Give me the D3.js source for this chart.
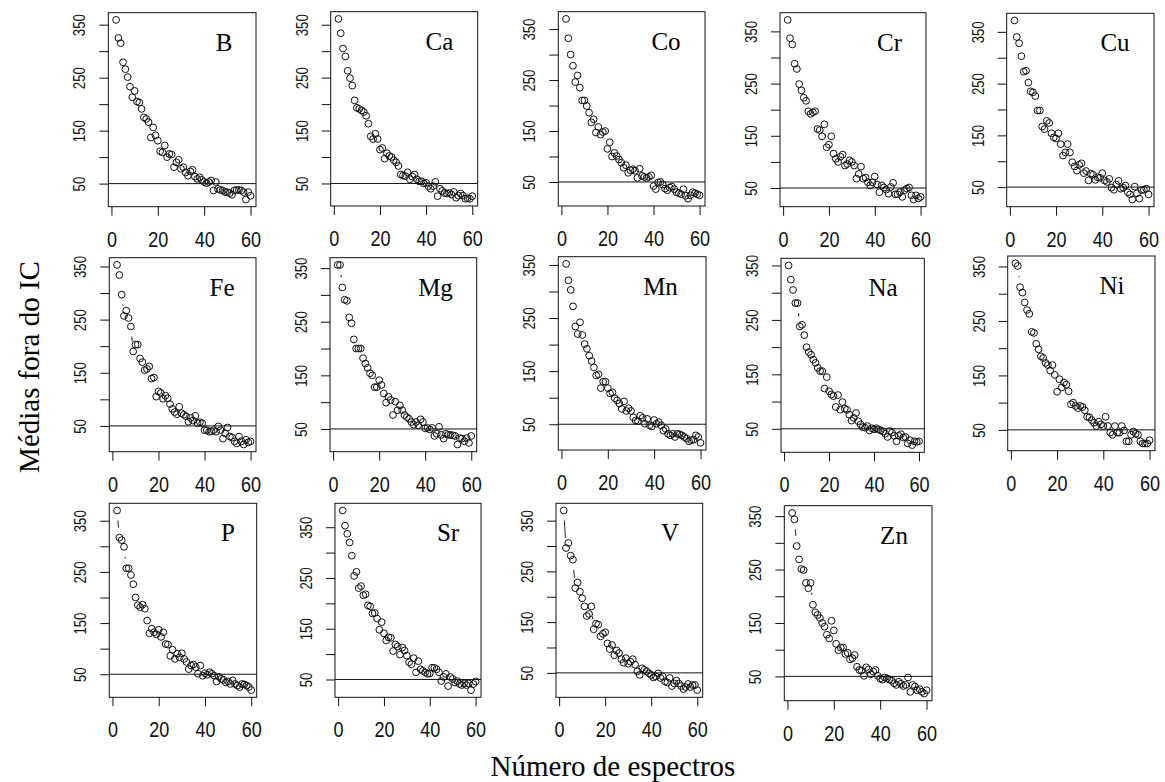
<!DOCTYPE html>
<html><head><meta charset="utf-8">
<script src="https://cdn.jsdelivr.net/npm/d3@7/dist/d3.min.js"></script>
<style>body{margin:0;background:#fff}</style>
</head><body><svg id="c" width="1165" height="782"></svg>
<script>
// ---------------- data ----------------
const elements = ["B","Ca","Co","Cr","Cu","Fe","Mg","Mn","Na","Ni","P","Sr","V","Zn"];
const spectra = d3.range(1, 61); // number of spectra (x); first value has no mean (NA)
const B  = [null,359,325,315,279,266,251,233,213,225,205,203,191,175,172,166,137,156,141,131,111,109,122,100,106,105,81,90,95,78,81,71,65,73,76,63,59,62,57,53,51,53,56,37,53,40,38,37,34,34,32,29,37,38,38,37,34,20,34,27];
const Ca = [null,361,334,305,290,263,249,235,207,193,191,188,185,178,163,139,134,144,134,114,117,97,107,102,100,94,90,83,67,65,64,71,58,63,67,58,54,54,50,51,45,40,45,53,26,40,36,32,31,32,29,34,23,27,31,27,21,22,21,26];
const Co = [null,370,332,300,278,246,259,235,210,210,199,186,167,173,147,158,143,148,150,115,128,100,107,101,94,88,78,83,68,73,75,72,58,76,62,60,58,60,63,42,36,49,50,45,37,34,39,41,36,30,28,26,36,23,17,24,30,28,26,24];
const Cr = [null,372,337,325,288,278,249,237,223,217,197,192,195,197,163,161,149,172,128,133,149,116,106,100,110,114,93,96,103,100,93,68,77,91,68,70,61,55,61,72,57,42,55,51,47,39,52,60,38,38,42,33,46,49,51,36,28,36,30,33];
const Cu = [null,372,340,328,303,273,275,252,235,233,226,198,198,167,162,178,174,154,146,144,154,133,111,117,133,117,98,90,82,93,96,77,81,63,76,74,64,69,68,77,63,60,66,49,45,55,62,47,49,53,40,36,26,51,38,28,44,45,47,36];
const Fe = [null,353,334,297,257,267,253,237,190,203,203,177,170,155,157,162,139,141,105,115,112,101,107,102,91,82,76,72,86,74,71,68,58,65,60,69,55,57,55,42,42,39,40,42,39,49,42,26,36,47,30,28,21,17,30,21,15,24,19,21];
const Mg = [null,356,356,314,291,289,258,247,217,200,200,200,182,172,164,154,150,128,128,141,132,116,99,110,104,76,101,85,94,85,76,72,69,63,58,63,57,68,63,51,52,49,52,37,41,54,39,32,41,39,39,38,37,21,33,32,27,33,24,37];
const Mn = [null,352,321,303,272,234,220,242,218,201,192,179,169,157,142,144,118,130,130,118,108,110,99,95,89,79,93,75,80,75,63,57,56,66,62,51,60,48,46,58,51,54,48,38,41,32,29,32,26,32,31,29,26,23,18,20,21,29,26,15];
const Na = [null,350,324,305,281,281,238,241,222,200,191,186,177,171,162,156,156,124,145,119,113,110,90,112,85,99,87,85,76,65,70,79,64,58,53,52,55,47,51,49,51,49,47,45,41,35,46,43,37,27,37,40,34,35,23,29,20,27,26,27];
const Ni = [null,356,351,312,302,284,270,263,230,228,208,198,185,182,173,169,159,169,151,120,143,128,137,133,121,97,100,94,90,94,92,86,74,73,68,63,57,65,60,57,74,57,45,41,57,45,45,57,49,29,29,41,47,43,41,29,25,25,25,31];
const P  = [null,370,317,312,299,257,257,244,226,200,185,181,186,178,155,130,139,132,128,137,123,132,109,108,86,98,80,90,83,91,80,74,60,67,69,64,51,67,47,52,49,54,51,47,36,45,41,39,34,36,31,38,31,28,25,31,30,28,25,19];
const Sr = [null,383,353,337,320,294,254,262,230,234,216,218,196,194,180,181,170,148,163,141,127,133,132,106,119,115,99,113,107,97,84,80,92,64,86,70,67,64,61,62,73,73,70,64,47,55,61,37,55,51,44,47,41,39,42,39,42,29,41,46];
const V  = [null,370,296,306,281,273,217,228,210,197,181,162,166,181,136,147,145,122,127,130,108,97,105,85,94,89,77,70,79,68,72,77,66,53,46,59,56,53,49,46,41,43,49,40,43,33,31,40,24,29,35,29,24,18,22,28,22,26,26,16];
const Zn = [null,356,344,294,269,251,249,225,215,225,184,170,165,159,150,143,128,121,154,136,111,99,104,104,92,94,82,84,90,68,62,61,51,67,63,54,59,62,51,46,44,48,46,44,42,37,34,40,36,32,34,48,21,34,31,24,26,21,18,24];
const seriesByElement = {B, Ca, Co, Cr, Cu, Fe, Mg, Mn, Na, Ni, P, Sr, V, Zn};
const xTickValues = [0, 20, 40, 60];
const yTickValues = [50, 100, 150, 200, 250, 300, 350];
const yTickLabels = [50, 150, 250, 350];
const referenceLevel = 50;
const xTitle = "Número de espectros";
const yTitle = "Médias fora do IC";

// ---------------- layout (pixel boxes of each panel) ----------------
const layout = [
  {l:108.3, r:256,   t:12.7,  b:206.7, lx:224},
  {l:330.7, r:477.7, t:11.7,  b:206,   lx:439.5},
  {l:558.3, r:705,   t:11.7,  b:206,   lx:666},
  {l:780,   r:926,   t:12.7,  b:206.7, lx:889.5},
  {l:1006.7,r:1154,  t:13.3,  b:206.7, lx:1115},
  {l:109.3, r:256,   t:257.7, b:451.7, lx:222},
  {l:330,   r:476.7, t:257.7, b:451.7, lx:435.5},
  {l:558.3, r:706,   t:256.7, b:450,   lx:660.5},
  {l:781,   r:924.3, t:258.3, b:452.3, lx:883},
  {l:1007.7,r:1155,  t:256,   b:450.7, lx:1112},
  {l:109.3, r:256.7, t:503.3, b:697.3, lx:228},
  {l:335,   r:481,   t:503.3, b:697.3, lx:448},
  {l:556,   r:702.7, t:503.3, b:697.3, lx:670},
  {l:784.3, r:932,   t:505.7, b:700.7, lx:894}
];

const svg = d3.select("#c");
svg.append("rect").attr("width",1165).attr("height",782).attr("fill","#fff");
const ink = "#111";
const sans = "'Liberation Sans', Arial, sans-serif";
const serif = "'Liberation Serif', 'Times New Roman', serif";

elements.forEach((name, i) => {
  const L = layout[i];
  const vals = seriesByElement[name];
  const pts = spectra.map((xv, j) => ({x: xv, y: vals[j]})).filter(d => d.y != null);
  const xe = d3.extent(spectra), ye = d3.extent(pts, d => d.y);
  const xpad = (xe[1]-xe[0])*0.04, ypad = (ye[1]-ye[0])*0.04;
  const x = d3.scaleLinear().domain([xe[0]-xpad, xe[1]+xpad]).range([L.l, L.r]);
  const y = d3.scaleLinear().domain([ye[0]-ypad, ye[1]+ypad]).range([L.b, L.t]);
  const g = svg.append("g");

  // reference line
  g.append("line").attr("x1", L.l).attr("x2", L.r)
    .attr("y1", y(referenceLevel)).attr("y2", y(referenceLevel))
    .attr("stroke", ink).attr("stroke-width", 1);

  // connecting segments with gaps around points (R type = "b")
  const gap = 10;
  const segs = [];
  for (let k = 1; k < pts.length; k++) {
    const x1 = x(pts[k-1].x), y1 = y(pts[k-1].y), x2 = x(pts[k].x), y2 = y(pts[k].y);
    const len = Math.hypot(x2-x1, y2-y1);
    if (len > 2*gap + 0.5) {
      const ux = (x2-x1)/len, uy = (y2-y1)/len;
      segs.push([x1+ux*gap, y1+uy*gap, x2-ux*gap, y2-uy*gap]);
    }
  }
  g.selectAll("line.seg").data(segs).join("line").attr("class","seg")
    .attr("x1", d=>d[0]).attr("y1", d=>d[1]).attr("x2", d=>d[2]).attr("y2", d=>d[3])
    .attr("stroke", ink).attr("stroke-width", 0.9);

  // points
  g.selectAll("circle").data(pts).join("circle")
    .attr("cx", d => x(d.x)).attr("cy", d => y(d.y)).attr("r", 3.4)
    .attr("fill", "none").attr("stroke", ink).attr("stroke-width", 1);

  // box
  g.append("rect").attr("x", L.l).attr("y", L.t).attr("width", L.r-L.l).attr("height", L.b-L.t)
    .attr("fill", "none").attr("stroke", ink).attr("stroke-width", 1);

  // x axis
  const xa = g.append("g").attr("transform", `translate(0,${L.b})`)
    .call(d3.axisBottom(x).tickValues(xTickValues).tickSize(9).tickSizeOuter(0));
  xa.select(".domain").remove();
  xa.selectAll("line").attr("stroke", ink);
  xa.selectAll("text").attr("y", 40).attr("dy", null)
    .attr("transform", "scale(0.82,1)")
    .style("font-family", sans).style("font-size", "22px").attr("fill", ink);

  // y axis
  const yt = yTickValues.filter(v => v >= y.domain()[0] && v <= y.domain()[1]);
  const ya = g.append("g").attr("transform", `translate(${L.l},0)`)
    .call(d3.axisLeft(y).tickValues(yt).tickSize(9).tickSizeOuter(0)
      .tickFormat(d => yTickLabels.includes(d) ? d : ""));
  ya.select(".domain").remove();
  ya.selectAll("line").attr("stroke", ink);
  ya.selectAll("text").attr("x", 0).attr("y", -23).attr("dy", null)
    .attr("text-anchor", "middle")
    .attr("transform", "rotate(-90) scale(0.8,1)")
    .style("font-family", sans).style("font-size", "16.5px").attr("fill", ink);

  // element label
  g.append("text").attr("x", L.lx).attr("y", L.t + 38).attr("text-anchor", "middle")
    .style("font-family", serif).style("font-size", "25px").attr("fill", "#000").text(name);
});

// axis titles
svg.append("text").attr("x", 613).attr("y", 776).attr("text-anchor", "middle")
  .style("font-family", serif).style("font-size", "29px").attr("fill", "#000").text(xTitle);
svg.append("text").attr("transform", "translate(39,367) rotate(-90)").attr("text-anchor", "middle")
  .style("font-family", serif).style("font-size", "29px").attr("fill", "#000").text(yTitle);
</script></body></html>
